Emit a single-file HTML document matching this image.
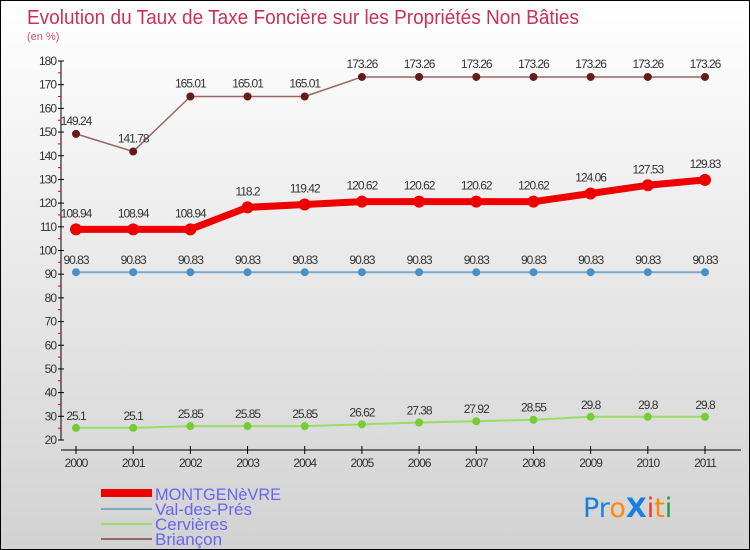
<!DOCTYPE html>
<html><head><meta charset="utf-8"><style>
html,body{margin:0;padding:0}
body{width:750px;height:550px;overflow:hidden;font-family:"DejaVu Sans","Liberation Sans",sans-serif}
#wrap{position:relative;width:748px;height:548px;border:1px solid #000;background:linear-gradient(#ffffff,#d2d2d2)}
</style></head><body>
<div id="wrap">
<svg id="svg" width="748" height="548" xmlns="http://www.w3.org/2000/svg" style="position:absolute;left:0;top:0">
<text x="26" y="23" font-size="20" fill="#c8325a" font-family="Liberation Sans, sans-serif" textLength="552" lengthAdjust="spacingAndGlyphs">Evolution du Taux de Taxe Foncière sur les Propriétés Non Bâties</text>
<text x="26" y="39" font-size="11" fill="#c8507a" font-family="Liberation Sans, sans-serif">(en %)</text>
<g id="axes"></g><g id="series"></g>
<g font-family="Liberation Sans, sans-serif">
<rect x="100" y="488" width="51" height="8" fill="#ee0000"/>
<text x="154" y="499" font-size="17" fill="#6666ee" textLength="126" lengthAdjust="spacingAndGlyphs">MONTGENèVRE</text>
<rect x="100" y="507" width="51" height="2" fill="#7ba8c8"/>
<text x="154" y="514" font-size="17" fill="#6666ee">Val-des-Prés</text>
<rect x="100" y="522" width="51" height="2" fill="#99dd66"/>
<text x="154" y="529" font-size="17" fill="#6666ee">Cervières</text>
<rect x="100" y="537" width="51" height="2" fill="#996666"/>
<text x="154" y="544" font-size="17" fill="#6666ee">Briançon</text>
</g>
<g font-size="27" font-family="DejaVu Sans, sans-serif">
<text x="582" y="516"><tspan fill="#1a7fd8">Pr</tspan><tspan fill="#ff8800">o</tspan><tspan fill="#1a7fd8" font-weight="bold">X</tspan><tspan fill="#ee3322">i</tspan><tspan fill="#ff8800">t</tspan><tspan fill="#229944">i</tspan></text>
</g>
</svg>
</div>
<script>
const years=["2000","2001","2002","2003","2004","2005","2006","2007","2008","2009","2010","2011"];
const montgenevre=[108.94,108.94,108.94,118.2,119.42,120.62,120.62,120.62,120.62,124.06,127.53,129.83];
const valDesPres=[90.83,90.83,90.83,90.83,90.83,90.83,90.83,90.83,90.83,90.83,90.83,90.83];
const cervieres=[25.1,25.1,25.85,25.85,25.85,26.62,27.38,27.92,28.55,29.8,29.8,29.8];
const briancon=[149.24,141.78,165.01,165.01,165.01,173.26,173.26,173.26,173.26,173.26,173.26,173.26];
const yTicks=[20,30,40,50,60,70,80,90,100,110,120,130,140,150,160,170,180];
const NS="http://www.w3.org/2000/svg";
const yMin=20,yMax=180,yTop=60,yBot=439;
function yS(v){return yBot-(v-yMin)/(yMax-yMin)*(yBot-yTop);}
function xS(i){return 75+i*(704-75)/(years.length-1);}
function mk(tag,attrs,parent){const e=document.createElementNS(NS,tag);for(const k in attrs)e.setAttribute(k,attrs[k]);parent.appendChild(e);return e;}
const ax=document.getElementById('axes');
let l=mk('line',{x1:60,y1:yTop,x2:60,y2:yBot,stroke:'#000'},ax);


l=mk('line',{x1:60,y1:449,x2:740,y2:449,stroke:'#000'},ax);


yTicks.forEach((v,i)=>{const y=yS(v);
 mk('line',{x1:57,y1:y,x2:63,y2:y,stroke:'#000'},ax);
 const t=mk('text',{x:55,y:y+4,'font-size':12,fill:'#333','text-anchor':'end','letter-spacing':'-1','font-family':'Liberation Sans, sans-serif'},ax);t.textContent=v;
 
 
 if(i<yTicks.length-1){const ym=yS(v+5);mk('line',{x1:57,y1:ym,x2:60,y2:ym,stroke:'#e00'},ax);}
});
years.forEach((yr,i)=>{const x=xS(i);
 mk('line',{x1:x,y1:445,x2:x,y2:453,stroke:'#000'},ax);
 const t=mk('text',{x:x,y:466,'font-size':12,fill:'#333','text-anchor':'middle','letter-spacing':'-1','font-family':'Liberation Sans, sans-serif'},ax);t.textContent=yr;
 
 
});
const sg=document.getElementById('series');
function series(data,name,color,lw,r,dot,labOff){
 const g=mk('g',{},sg);
 
 
 const p=mk('polyline',{points:data.map((v,i)=>xS(i)+','+yS(v)).join(' '),fill:'none',stroke:color,'stroke-width':lw,'stroke-linejoin':'round'},g);
 
 
 data.forEach((v,i)=>{
  const c=mk('circle',{cx:xS(i),cy:yS(v),r:r,fill:dot},g);
  
  
  const t=mk('text',{x:xS(i),y:yS(v)-labOff,'font-size':12,fill:'#333','text-anchor':'middle','letter-spacing':'-1','font-family':'Liberation Sans, sans-serif'},g);
  t.textContent=v;
  
  
 });
}
series(cervieres,'cervieres','#99dd66',2,4,'#77cc33',8);
series(valDesPres,'val-des-pres','#7ba8c8',2,4,'#4a90c8',8);
series(briancon,'briancon','#996666',1.5,4,'#661a1a',9);
series(montgenevre,'montgenevre','#ee0000',7,6,'#ee0000',12);
</script>
</body></html>
